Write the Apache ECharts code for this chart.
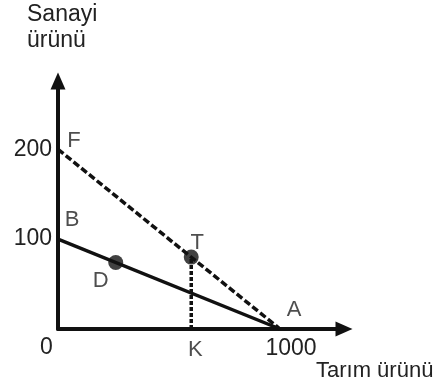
<!DOCTYPE html>
<html>
<head>
<meta charset="utf-8">
<script src="https://cdn.jsdelivr.net/npm/echarts@6/dist/echarts.min.js"></script>
<style>
  html, body { margin: 0; padding: 0; background: #fff; }
  #chart { width: 442px; height: 383px; }
</style>
</head>
<body>
<div id="chart"></div>
<script>
// veriler
let lineBA = [[0, 100], [1000, 0]];
let lineFA = [[0, 200], [1000, 0]];
let lineKT = [[600, 0], [600, 80]];
let pointNames = ['F', 'B', 'D', 'T', 'K', 'A'];
let pointValues = [[0, 200], [0, 100], [260, 74], [600, 80], [600, 0], [1000, 0]];
let dotNames = ['D', 'T'];
let yTicks = [100, 200];
let xTicks = [1000];

let myChart = echarts.init(document.getElementById('chart'));

let font = 'Liberation Sans, Arial, sans-serif';
let textColor = '#222';

// harf etiketlerinin kaymasi
let offsets = {
    F: [16, -8],
    B: [14, -19],
    D: [-15, 18],
    T: [6, -14],
    K: [4, 21],
    A: [14, -19]
};

let points = pointNames.map(function (n, i) {
    let isDot = dotNames.indexOf(n) >= 0;
    return {
        name: n,
        value: pointValues[i],
        symbolSize: isDot ? 15 : 0,
        label: {
            show: true,
            position: 'inside',
            offset: offsets[n],
            formatter: n,
            fontSize: 22,
            fontFamily: font,
            color: textColor
        }
    };
});

let axisLine = {
    show: true,
    symbol: ['none', 'triangle'],
    symbolSize: [15, 17],
    lineStyle: { color: '#111', width: 4 }
};

let option = {
    animation: false,
    grid: { left: 58, top: 81, right: 98, bottom: 54 },
    xAxis: {
        type: 'value',
        min: 0,
        max: 1288,
        interval: 1000,
        axisLine: axisLine,
        axisTick: { show: false },
        splitLine: { show: false },
        axisLabel: {
            showMaxLabel: false,
            margin: 8,
            fontSize: 23,
            fontFamily: font,
            color: textColor,
            padding: [0, 0, 0, 22],
            formatter: function (v) {
                return xTicks.indexOf(v) >= 0 ? String(v) : '';
            }
        }
    },
    yAxis: {
        type: 'value',
        min: 0,
        max: 276,
        interval: 100,
        axisLine: axisLine,
        axisTick: { show: false },
        splitLine: { show: false },
        axisLabel: {
            showMaxLabel: false,
            margin: 6,
            fontSize: 23,
            fontFamily: font,
            color: textColor,
            formatter: function (v) {
                return yTicks.indexOf(v) >= 0 ? String(v) : '';
            }
        }
    },
    graphic: [
        {
            type: 'text', left: 27, top: 2,
            style: { text: 'Sanayi\nürünü', fontSize: 23, lineHeight: 26, fontFamily: font, fill: textColor }
        },
        {
            type: 'text', left: 40, top: 336,
            style: { text: '0', fontSize: 23, fontFamily: font, fill: textColor }
        },
        {
            type: 'text', left: 316, top: 360,
            style: { text: 'Tarım ürünü', fontSize: 22, fontFamily: font, fill: textColor }
        }
    ],
    series: [
        {
            type: 'line',
            data: lineBA,
            symbol: 'none',
            lineStyle: { color: '#111', width: 3.5 }
        },
        {
            type: 'line',
            data: lineFA,
            symbol: 'none',
            lineStyle: { color: '#111', width: 3.5, type: [7, 3] }
        },
        {
            type: 'line',
            data: lineKT,
            symbol: 'none',
            lineStyle: { color: '#111', width: 3.5, type: [4, 2] }
        },
        {
            type: 'scatter',
            data: points,
            itemStyle: { color: '#111' },
            z: 5
        }
    ]
};

myChart.setOption(option);
window.addEventListener('resize', function () {
    myChart.resize();
});
</script>
</body>
</html>
